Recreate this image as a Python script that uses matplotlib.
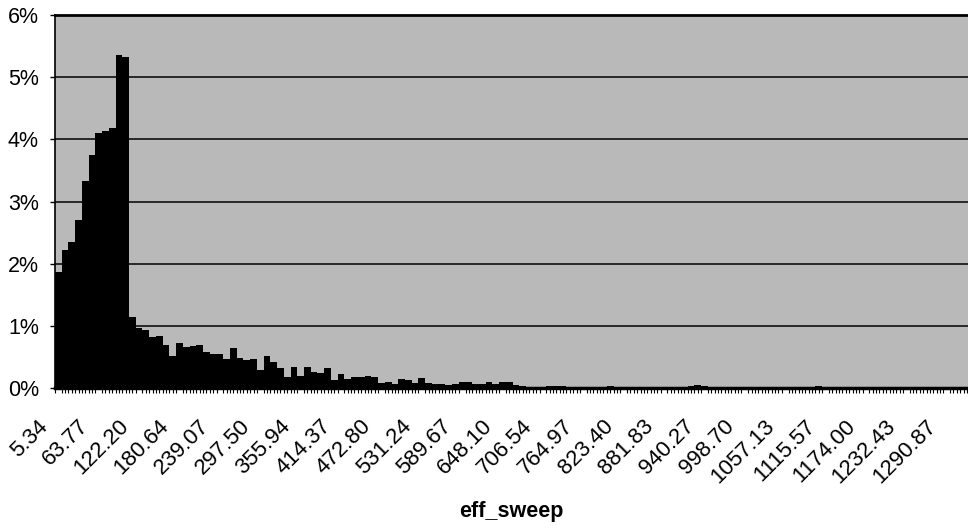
import numpy as np
import matplotlib
matplotlib.use("Agg")
import matplotlib.pyplot as plt
import matplotlib.transforms as mtrans
from matplotlib.ticker import PercentFormatter, MultipleLocator

# ---- data (percent of observations per eff_sweep bin) ----
peak_bins = [1.87, 2.22, 2.35, 2.70, 3.33, 3.75, 4.10, 4.13, 4.18, 5.35, 5.33]
mid_bins = [1.15, 0.96, 0.93, 0.82, 0.83, 0.69, 0.51, 0.72, 0.66, 0.67,
            0.69, 0.58, 0.55, 0.55, 0.47, 0.64, 0.48, 0.45, 0.47, 0.29,
            0.51, 0.42, 0.32, 0.18, 0.34, 0.20, 0.34, 0.26, 0.24, 0.32]
tail_bins = [0.13, 0.22, 0.14, 0.17, 0.17, 0.19, 0.18, 0.08, 0.10, 0.06,
             0.14, 0.13, 0.08, 0.16, 0.08, 0.06, 0.06, 0.05, 0.06, 0.09,
             0.09, 0.06, 0.06, 0.09, 0.06, 0.09, 0.09, 0.05, 0.04, 0.02,
             0.01, 0.02, 0.03, 0.03, 0.03, 0.02, 0.01, 0.01, 0.01, 0.02,
             0.02, 0.03, 0.02, 0.01]
far_bins = [0.01, 0.02, 0.01, 0.01, 0.02, 0.01, 0.01, 0.02, 0.02, 0.03,
            0.05, 0.04,
            0.02, 0.02, 0.01, 0.02, 0.01, 0.01, 0.02, 0.01, 0.01, 0.02,
            0.01, 0.01, 0.02, 0.01, 0.01, 0.02,
            0.04,
            0.01, 0.01, 0.02, 0.01, 0.01, 0.01, 0.02, 0.01, 0.01, 0.01,
            0.02, 0.01, 0.01, 0.01, 0.01, 0.02, 0.01, 0.01, 0.01, 0.01,
            0.01, 0.01]
pct = np.array(peak_bins + mid_bins + tail_bins + far_bins)

tick_labels = ["5.34", "63.77", "122.20", "180.64", "239.07", "297.50",
               "355.94", "414.37", "472.80", "531.24", "589.67", "648.10",
               "706.54", "764.97", "823.40", "881.83", "940.27", "998.70",
               "1057.13", "1115.57", "1174.00", "1232.43", "1290.87"]
bins_per_label = 6
y_ticks = [0, 1, 2, 3, 4, 5, 6]

# ---- figure ----
plt.rcParams["font.family"] = ["Liberation Sans", "DejaVu Sans"]
W, H = 968, 529
fig = plt.figure(figsize=(W / 100, H / 100), dpi=100)
left, bottom, top = 55, 388, 15
ax = fig.add_axes([left / W, 1 - bottom / H, (W - left) / W, (bottom - top) / H])
ax.set_facecolor("#b9b9b9")

x = np.arange(len(pct))
ax.bar(x, pct, width=1.0, color="black", linewidth=0, zorder=2)

bar_px = 6.73
ax.set_xlim(-0.5, (W - left) / bar_px - 0.5)
ax.set_ylim(0, 6)

# y axis
ax.set_yticks(y_ticks)
ax.yaxis.set_major_formatter(PercentFormatter(decimals=0))
ax.tick_params(axis="y", which="major", direction="out", length=3.6,
               width=1.0, pad=8.0, labelsize=15.5, colors="black")
ax.set_axisbelow(True)
ax.yaxis.grid(True, color="black", linewidth=1.1)

# x axis
pos = np.arange(len(tick_labels)) * bins_per_label
ax.set_xticks(pos)
ax.set_xticklabels(tick_labels, rotation=45, ha="right", va="top",
                   rotation_mode="anchor", fontsize=16)
ax.xaxis.set_minor_locator(MultipleLocator(0.5))
ax.tick_params(axis="x", which="major", length=0, pad=20)
ax.tick_params(axis="x", which="minor", direction="out", length=3.6, width=0.8)
shift = mtrans.ScaledTranslation(-0.21, 0, fig.dpi_scale_trans)
for lab in ax.get_xticklabels():
    lab.set_transform(lab.get_transform() + shift)

ax.set_xlabel("eff_sweep", fontsize=15.5, fontweight="bold")
ax.xaxis.label.set_va("center")
ax.xaxis.set_label_coords(0.5, (bottom - 512) / (bottom - top))

for side, lw in (("top", 2.0), ("left", 1.2), ("bottom", 2.5)):
    ax.spines[side].set_linewidth(lw)
    ax.spines[side].set_color("black")
ax.spines["right"].set_visible(False)

fig.savefig("out.png", dpi=100, facecolor="white")
